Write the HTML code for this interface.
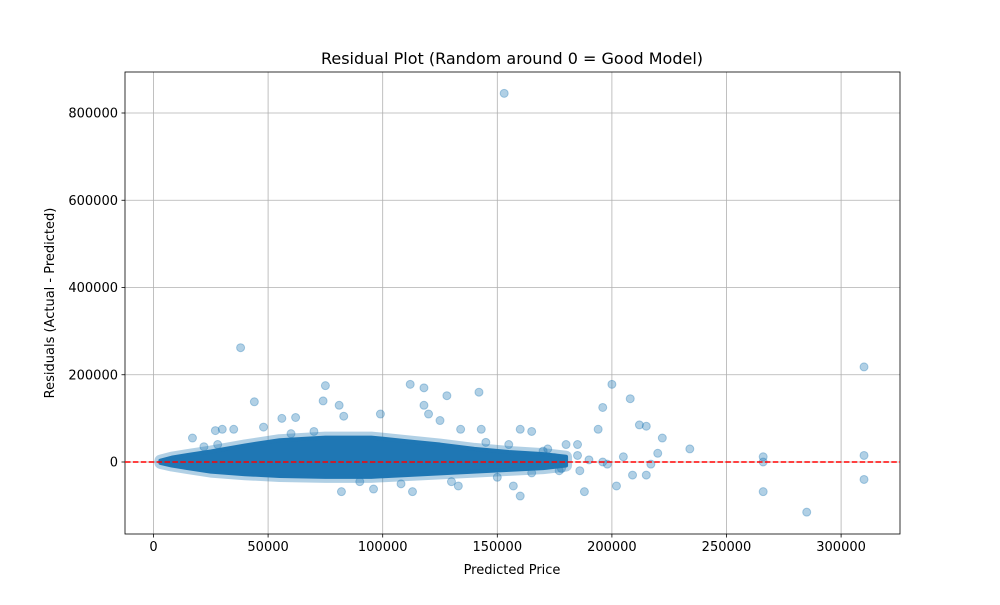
<!DOCTYPE html>
<html><head><meta charset="utf-8"><style>
body{margin:0;background:#fff;font-family:"Liberation Sans","DejaVu Sans",sans-serif}
svg text{font-family:"DejaVu Sans","Liberation Sans",sans-serif;fill:#000}
</style></head><body>
<svg id="c" width="1000" height="600">
<rect x="0" y="0" width="1000" height="600" fill="#fff"/>
<g id="grid"></g>
<g id="band"></g>
<g id="pts"></g>
<g id="axes"></g>
<text x="512" y="64" font-size="16" text-anchor="middle">Residual Plot (Random around 0 = Good Model)</text>
<text x="512" y="574" font-size="13" text-anchor="middle">Predicted Price</text>
<text transform="translate(54,303) rotate(-90)" font-size="13" text-anchor="middle">Residuals (Actual - Predicted)</text>
</svg>
<script>
const xTicks=[0,50000,100000,150000,200000,250000,300000];
const yTicks=[0,200000,400000,600000,800000];
const bandX=[3000,8000,15000,25000,40000,55000,75000,95000,110000,125000,140000,155000,170000,180000];
const bandLow=[-2000,-8000,-14000,-22000,-28000,-32000,-34000,-34000,-30000,-26000,-22000,-18000,-14000,-8000];
const bandHigh=[3000,10000,16000,24000,38000,50000,56000,56000,48000,40000,30000,23000,18000,12000];
const outX=[153000,38000,310000,310000,310000,285000,266000,266000,266000,234000,222000,215000,212000,208000,200000,196000,194000,217000,215000,202000,188000,160000,113000,82000,96000,75000,74000,112000,118000,142000,128000,44000,118000,81000,99000,83000,56000,62000,120000,185000,180000,165000,160000,209000,196000,186000,177000,205000,220000,157000,133000,48000,35000,27000,30000,17000,155000,143000,134000,125000,170000,175000,190000,198000,185000,178000,172000,165000,150000,145000,130000,108000,90000,70000,60000,28000,22000];
const outY=[845000,262000,218000,15000,-40000,-115000,-68000,12000,0,30000,55000,82000,85000,145000,178000,125000,75000,-5000,-30000,-55000,-68000,-78000,-68000,-68000,-62000,175000,140000,178000,170000,160000,152000,138000,130000,130000,110000,105000,100000,102000,110000,40000,40000,70000,75000,-30000,0,-20000,-20000,12000,20000,-55000,-55000,80000,75000,72000,75000,55000,40000,75000,75000,95000,25000,10000,5000,-5000,15000,-15000,30000,-25000,-35000,45000,-45000,-50000,-45000,70000,65000,40000,35000];
const L=125,R=900,T=72,B=534;
const sx=v=>153.5+v*(114.6/50000);
const sy=v=>462-v*(87.25/200000);
const NS="http://www.w3.org/2000/svg";
function mk(t,a,p){const e=document.createElementNS(NS,t);for(const k in a)e.setAttribute(k,a[k]);p.appendChild(e);return e;}
const grid=document.getElementById('grid'),axes=document.getElementById('axes');
xTicks.forEach(v=>{const x=sx(v);
 const g=mk('line',{x1:x,x2:x,y1:T,y2:B,stroke:'#b0b0b0','stroke-width':0.8},grid);
 
 
 mk('line',{x1:x,x2:x,y1:B,y2:B+3.5,stroke:'#000','stroke-width':0.8},axes);
 const t=mk('text',{x:x,y:B+17,'font-size':13,'text-anchor':'middle'},axes);t.textContent=v;
 
 });
yTicks.forEach(v=>{const y=sy(v);
 const g=mk('line',{x1:L,x2:R,y1:y,y2:y,stroke:'#b0b0b0','stroke-width':0.8},grid);
 
 
 mk('line',{x1:L-3.5,x2:L,y1:y,y2:y,stroke:'#000','stroke-width':0.8},axes);
 const t=mk('text',{x:L-7,y:y+4.5,'font-size':13,'text-anchor':'end'},axes);t.textContent=v;
 
 });
mk('rect',{x:L,y:T,width:R-L,height:B-T,fill:'none',stroke:'#000','stroke-width':0.8},axes);
let d='';bandX.forEach((v,i)=>{d+=(i?'L':'M')+sx(v)+','+sy(bandHigh[i]);});
for(let i=bandX.length-1;i>=0;i--)d+='L'+sx(bandX[i])+','+sy(bandLow[i]);
const band=document.getElementById('band');
const bh=mk('path',{d:d+'Z',fill:'none',stroke:'#1f77b4','stroke-opacity':0.35,'stroke-width':12,'stroke-linejoin':'round'},band);


const bp=mk('path',{d:d+'Z',fill:'#1f77b4',stroke:'#1f77b4','stroke-width':4,'stroke-linejoin':'round'},band);


const pts=document.getElementById('pts');
outX.forEach((v,i)=>{const c=mk('circle',{cx:sx(v),cy:sy(outY[i]),r:4,fill:'#1f77b4','fill-opacity':0.35,stroke:'#1f77b4','stroke-opacity':0.35,'stroke-width':1},pts);
 
 });
const z=mk('line',{x1:L,x2:R,y1:sy(0),y2:sy(0),stroke:'#ff0000','stroke-width':1.5,'stroke-dasharray':'5.5,2.4'},axes);


</script>
</body></html>
